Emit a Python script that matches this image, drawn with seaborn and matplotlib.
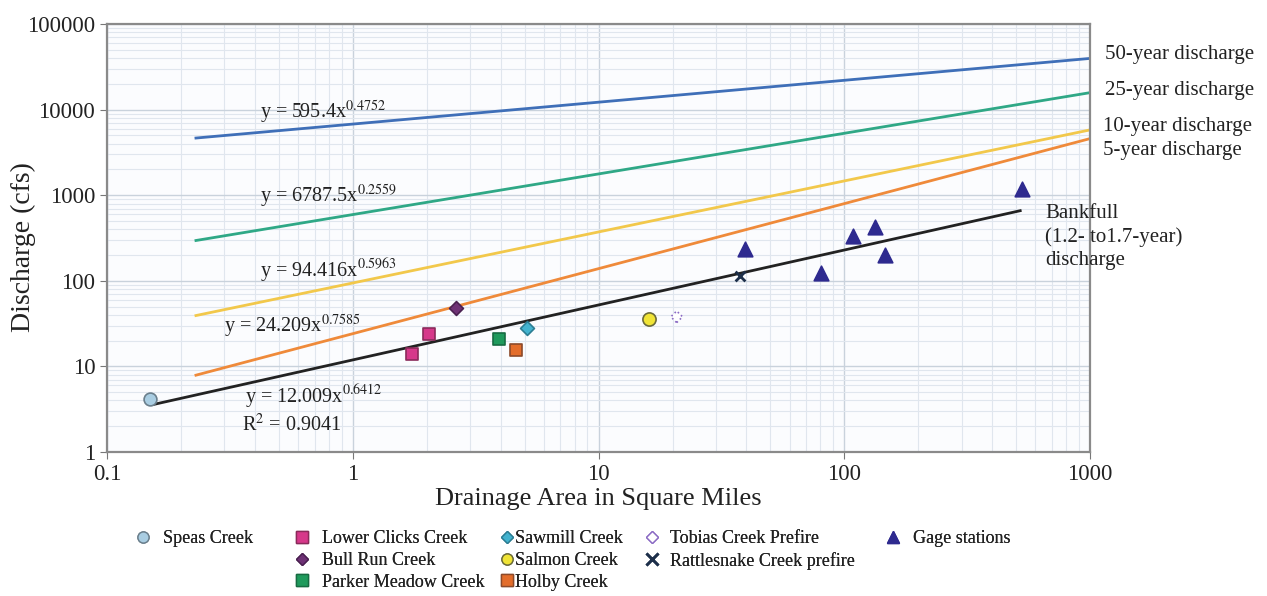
import pandas as pd
import seaborn as sns
import matplotlib.pyplot as plt
from matplotlib.lines import Line2D

# Regression curves (endpoints, log-log straight lines)
curve_names = ['50-year', '25-year', '10-year', '5-year', 'Bankfull']
curve_x0 = [0.23, 0.23, 0.23, 0.23, 0.155]
curve_x1 = [1000, 1000, 1000, 1000, 520]
curve_y0 = [4660, 296, 39.3, 7.9, 3.6]
curve_y1 = [39700, 15800, 5800, 4590, 660]
curve_colors = ['#3f6fb8', '#2fa886', '#f2c84b', '#ef8a3a', '#222222']
curve_labels = ['50-year discharge', '25-year discharge', '10-year discharge',
                '5-year discharge', 'Bankfull\n(1.2- to1.7-year)\ndischarge']

# Equation labels
eq_texts = [r'y = 595.4x$^{0.4752}$', r'y = 6787.5x$^{0.2559}$', r'y = 94.416x$^{0.5963}$',
            r'y = 24.209x$^{0.7585}$', r'y = 12.009x$^{0.6412}$', r'R$^{2}$ = 0.9041']

# Site observations
sites = ['Speas Creek', 'Lower Clicks Creek', 'Bull Run Creek', 'Parker Meadow Creek',
         'Sawmill Creek', 'Salmon Creek', 'Holby Creek', 'Tobias Creek Prefire',
         'Rattlesnake Creek prefire', 'Gage stations']
site_area = {
    'Speas Creek': [0.15],
    'Lower Clicks Creek': [1.74, 2.04],
    'Bull Run Creek': [2.63],
    'Parker Meadow Creek': [3.94],
    'Sawmill Creek': [5.12],
    'Salmon Creek': [16.1],
    'Holby Creek': [4.61],
    'Tobias Creek Prefire': [20.8],
    'Rattlesnake Creek prefire': [37.7],
    'Gage stations': [39.5, 80.4, 108.7, 133, 146.5, 528],
}
site_q = {
    'Speas Creek': [4.2],
    'Lower Clicks Creek': [14.1, 24.1],
    'Bull Run Creek': [48.5],
    'Parker Meadow Creek': [21],
    'Sawmill Creek': [28.3],
    'Salmon Creek': [36],
    'Holby Creek': [15.6],
    'Tobias Creek Prefire': [38],
    'Rattlesnake Creek prefire': [115],
    'Gage stations': [238, 125, 330, 420, 203, 1170],
}
# marker, face, edge, size, linestyle of edge
site_style = {
    'Speas Creek': ('o', '#a9cde2', '#6b7f8c', 85, '-'),
    'Lower Clicks Creek': ('s', '#d6388a', '#8a2a5a', 70, '-'),
    'Bull Run Creek': ('D', '#6e3175', '#4a2050', 50, '-'),
    'Parker Meadow Creek': ('s', '#1f9a5c', '#176b42', 70, '-'),
    'Sawmill Creek': ('D', '#43b3cf', '#2c7d92', 50, '-'),
    'Salmon Creek': ('o', '#f0e436', '#6b6b3a', 90, '-'),
    'Holby Creek': ('s', '#e36d2b', '#8c4a2a', 70, '-'),
    'Tobias Creek Prefire': ('D', 'white', '#8b6bc4', 35, ':'),
    'Rattlesnake Creek prefire': ('x', '#1d2f4a', '#1d2f4a', 50, '-'),
    'Gage stations': ('^', '#2e2a8f', '#2e2a8f', 110, '-'),
}

plt.rcParams['font.family'] = ['Liberation Serif', 'DejaVu Serif']
plt.rcParams['mathtext.fontset'] = 'stix'

fig = plt.figure(figsize=(12.67, 5.96), dpi=100)
ax = fig.add_axes([0.0845, 0.2416, 0.7758, 0.718])
ax.set_facecolor('#fbfcfe')

lines = pd.DataFrame({
    'curve': curve_names * 2,
    'x': curve_x0 + curve_x1,
    'y': curve_y0 + curve_y1,
})
sns.lineplot(data=lines, x='x', y='y', hue='curve', hue_order=curve_names,
             palette=dict(zip(curve_names, curve_colors)), linewidth=2,
             legend=False, ax=ax, sort=True)

handles = {}
for s in sites:
    mk, fc, ec, sz, ls = site_style[s]
    df = pd.DataFrame({'area': site_area[s], 'q': site_q[s]})
    if mk == 'x':
        sns.scatterplot(data=df, x='area', y='q', marker=mk, color=fc,
                        s=sz, linewidth=2, ax=ax, zorder=5, legend=False)
    else:
        sns.scatterplot(data=df, x='area', y='q', marker=mk, color=fc, edgecolor=ec,
                        s=sz, linewidth=1.2, linestyle=ls, ax=ax, zorder=5, legend=False)
    handles[s] = Line2D([0], [0], marker=mk, linestyle='none', markerfacecolor=fc,
                        markeredgecolor=ec, markeredgewidth=2 if mk == 'x' else 1,
                        markersize=8 if mk != 'D' else 6, label=s)

ax.set_xscale('log')
ax.set_yscale('log')
ax.set_xlim(0.1, 1000)
ax.set_ylim(1, 100000)
ax.set_xticks([0.1, 1, 10, 100, 1000])
ax.set_xticklabels(['0.1', '1', '10', '100', '1000'])
ax.set_yticks([1, 10, 100, 1000, 10000, 100000])
ax.set_yticklabels(['1', '10', '100', '1000', '10000', '100000'])
ax.tick_params(axis='both', which='major', labelsize=16.5, length=5, color='#777777',
               labelcolor='#222222')
ax.tick_params(axis='both', which='minor', length=0)
ax.grid(True, which='major', color='#c9d2dc', linewidth=1)
ax.grid(True, which='minor', color='#e0e6ee', linewidth=0.8)
for sp in ax.spines.values():
    sp.set_color('#8a8a8a')
    sp.set_linewidth(1.6)

ax.set_xlabel('Drainage Area in Square Miles', fontsize=19, labelpad=2, color='#222222')
ax.set_ylabel('Discharge (cfs)', fontsize=20, color='#222222')
ax.yaxis.set_label_coords(-0.072, 0.48)

# equation labels
eq_pos = [(0.42, 9300), (0.42, 970), (0.42, 132), (0.30, 29), (0.365, 4.4), (0.355, 2.07)]
for t, (ex, ey) in zip(eq_texts, eq_pos):
    ax.text(ex, ey, t, fontsize=14.5, color='#222222', va='center', ha='left')

# curve labels on the right
lab_pos = [(1105, 55), (1105, 91), (1103, 127), (1103, 150), (1045, 237)]
for t, (px, py) in zip(curve_labels, lab_pos):
    fig.text(px / 1267, 1 - py / 596, t, fontsize=15, color='#222222',
             va='center', ha='left', linespacing=1.3)

# legend, uneven columns: (entries, left px, text pad)
columns = [
    (['Speas Creek'], 123, 0.5),
    (['Lower Clicks Creek', 'Bull Run Creek', 'Parker Meadow Creek'], 282, 0.5),
    (['Sawmill Creek', 'Salmon Creek', 'Holby Creek'], 487, -0.15),
    (['Tobias Creek Prefire', 'Rattlesnake Creek prefire'], 632, 0.4),
    (['Gage stations'], 873, 0.5),
]
for names, px, pad in columns:
    lg = fig.legend(handles=[handles[n] for n in names], loc='upper left',
                    bbox_to_anchor=(px / 1267, 1 - 521 / 596), frameon=False,
                    fontsize=13, handletextpad=pad, labelspacing=0.27,
                    borderpad=0, handlelength=1.2, labelcolor='#222222')
    fig.add_artist(lg)

plt.savefig('out.png', dpi=100)
